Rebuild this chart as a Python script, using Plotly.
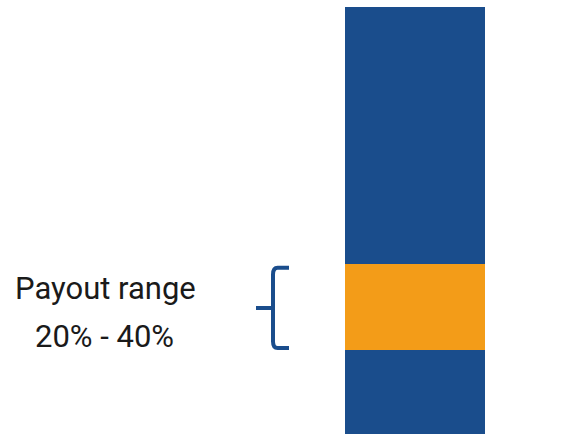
import plotly.graph_objects as go

category = ["Payout"]
segment_names = ["Below range", "Payout range", "Above range"]
segment_values = [20, 20, 60]
segment_colors = ["#1a4d8c", "#f39c18", "#1a4d8c"]
range_low, range_high = 20, 40
label_lines = ["Payout range", "20% - 40%"]

fig = go.Figure()
for name, val, col in zip(segment_names, segment_values, segment_colors):
    fig.add_trace(go.Bar(x=category, y=[val], name=name, marker=dict(color=col, line=dict(width=0)),
                         width=1, hoverinfo="skip", cliponaxis=True))

W, H = 581, 434
fig.update_layout(
    barmode="stack", width=W, height=H, margin=dict(l=0, r=0, t=0, b=0),
    paper_bgcolor="white", plot_bgcolor="white", showlegend=False,
    xaxis=dict(domain=[345 / W, 485 / W], range=[-0.5, 0.5], visible=False, fixedrange=True),
    yaxis=dict(domain=[0, 1 - 7 / H], range=[0.47, 100], visible=False, fixedrange=True),
)

# brace
xs = 289 / W
xv = 273 / W
xm = 256 / W
top = range_high - 0.8
bot = range_low + 0.5
mid = (top + bot) / 2
r = 1.6
path = (f"M {xs},{top} L {xv + 0.008},{top} Q {xv},{top} {xv},{top - r} "
        f"L {xv},{bot + r} Q {xv},{bot} {xv + 0.008},{bot} L {xs},{bot} "
        f"M {xv},{mid} L {xm},{mid}")
fig.add_shape(type="path", xref="paper", yref="y", path=path,
              line=dict(color="#1a4d8c", width=4))

font = dict(family="Roboto", size=31, color="#1a1a1a")
fig.add_annotation(x=105 / W, xref="paper", y=34.3, yref="y", text=label_lines[0],
                   showarrow=False, font=font, xanchor="center", yanchor="middle")
fig.add_annotation(x=104 / W, xref="paper", y=23.1, yref="y", text=label_lines[1],
                   showarrow=False, font=font, xanchor="center", yanchor="middle")

fig.write_html("out.html", config={"displayModeBar": False, "staticPlot": True},
               post_script="document.body.style.margin='0px';")
